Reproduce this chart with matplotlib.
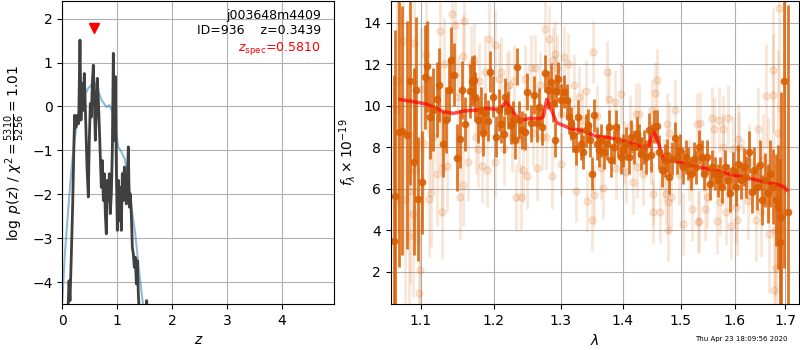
import matplotlib
matplotlib.use('Agg')
import matplotlib.pyplot as plt
from matplotlib.ticker import FixedLocator, FixedFormatter, NullLocator
import numpy as np

# p(z) curves
pz_z = [0.07, 0.109, 0.122, 0.14, 0.158, 0.188, 0.213, 0.225, 0.249, 0.274, 0.298,
        0.322, 0.340, 0.359, 0.377, 0.401, 0.426, 0.450, 0.474, 0.492, 0.511, 0.529,
        0.547, 0.565, 0.584, 0.602, 0.620, 0.638, 0.657, 0.675, 0.693, 0.711, 0.729,
        0.748, 0.766, 0.784, 0.802, 0.821, 0.839, 0.857, 0.875, 0.894, 0.912, 0.930,
        0.948, 0.967, 0.985, 1.003, 1.021, 1.040, 1.058, 1.076, 1.094, 1.112, 1.131,
        1.149, 1.167, 1.185, 1.204, 1.222, 1.240, 1.258, 1.277, 1.295, 1.313, 1.331,
        1.350, 1.368, 1.386, 1.404, 1.526, 1.538, 1.550]
pz_log = [-5.0, -4.46, -3.97, -4.42, -3.66, -2.29, -0.77, -0.20, -0.47, -0.20, -0.39,
          1.51, -0.31, 0.52, -0.09, 0.75, -0.31, -1.38, -2.06, -0.77, 0.07, -0.24,
          0.52, 0.94, 0.14, -0.77, -0.09, 0.64, 0.14, -0.47, -1.15, -1.84, -1.23,
          -2.14, -1.53, -2.44, -2.90, -1.68, -2.14, -1.53, -2.44, -1.99, -1.00, 1.21,
          -0.77, 0.68, -1.38, -2.82, -1.68, -2.60, -1.84, -2.82, -1.53, -2.14, -1.38,
          -1.84, -2.22, -1.68, -0.92, -2.29, -1.99, -2.44, -3.21, -3.36, -3.66, -3.43,
          -4.04, -3.51, -4.27, -4.73, -4.73, -4.42, -4.73]

prior_z = [0.0, 0.05, 0.11, 0.17, 0.23, 0.29, 0.35, 0.41, 0.47, 0.53, 0.60, 0.66, 0.72,
           0.78, 0.81, 0.86, 0.90, 0.96, 1.02, 1.08, 1.14, 1.20, 1.26, 1.33, 1.38,
           1.42, 1.47, 1.52]
prior_log = [-4.4, -3.3, -2.3, -1.38, -0.69, -0.24, 0.07, 0.26, 0.41, 0.49, 0.52, 0.33,
             0.14, 0.03, -0.01, 0.03, -0.09, -0.47, -0.92, -1.04, -1.20, -1.68, -2.29,
             -2.90, -3.50, -3.97, -4.50, -5.0]

z_spec = 0.5810
z_best = 0.3439

# spectrum, first orient
wave_a = [1.0655, 1.0670, 1.0723, 1.0758, 1.0826, 1.0862, 1.0906, 1.0942, 1.0969, 1.1017,
          1.1053, 1.1079, 1.1122, 1.1166, 1.1211, 1.1245, 1.1298, 1.1334, 1.1378, 1.1401,
          1.1441, 1.1486, 1.1522, 1.1550, 1.1594, 1.1660, 1.1690, 1.1718, 1.1740, 1.1779,
          1.1825, 1.1845, 1.1881, 1.1920, 1.1953, 1.1987, 1.2035, 1.2074, 1.2112, 1.2151,
          1.2170, 1.2209, 1.2249, 1.2287, 1.2317, 1.2346, 1.2375, 1.2415, 1.2465, 1.2494,
          1.2545, 1.2594, 1.2635, 1.2665, 1.2715, 1.2765, 1.2806, 1.2847, 1.2878, 1.2909,
          1.2924, 1.2959, 1.3001, 1.3052, 1.3095, 1.3131, 1.3167, 1.3199, 1.3237, 1.3273,
          1.3316, 1.3358, 1.3396, 1.3433, 1.3465, 1.3497, 1.3529, 1.3573, 1.3615, 1.3647,
          1.3691, 1.3736, 1.3768, 1.3811, 1.3856, 1.3889, 1.3923, 1.3968, 1.4011, 1.4057,
          1.4102, 1.4146, 1.4192, 1.4238, 1.4272, 1.4316, 1.4362, 1.4397, 1.4443, 1.4488,
          1.4535, 1.4582, 1.4627, 1.4675, 1.4722, 1.4768, 1.4803, 1.4851, 1.4899, 1.4946,
          1.4994, 1.5043, 1.5090, 1.5138, 1.5187, 1.5235, 1.5284, 1.5334, 1.5381, 1.5431,
          1.5481, 1.5529, 1.5579, 1.5630, 1.5678, 1.5723, 1.5766, 1.5817, 1.5866, 1.5918,
          1.5969, 1.6018, 1.6070, 1.6122, 1.6172, 1.6224, 1.6277, 1.6327, 1.6380, 1.6433,
          1.6484, 1.6537, 1.6590, 1.6642, 1.6696, 1.6750, 1.6802, 1.6856, 1.6882, 1.6922,
          1.6977, 1.7044]
flux_a = [3.49, 5.65, 8.75, 8.80, 8.60, 11.20, 7.30, 10.75, 5.50, 6.30,
          11.40, 11.90, 9.45, 9.80, 10.30, 11.00, 8.15, 9.30, 10.75, 12.20,
          11.50, 7.50, 8.40, 10.75, 9.10, 10.70, 11.20, 11.24, 10.44, 9.31,
          9.80, 8.67, 9.63, 9.28, 11.64, 10.44, 8.51, 9.80, 9.12, 8.62,
          10.44, 9.80, 9.07, 9.31, 8.35, 11.88, 9.31, 8.83, 8.75, 10.67,
          9.15, 10.52, 9.15, 9.95, 8.99, 11.56, 10.76, 11.15, 10.11, 8.35,
          10.72, 11.30, 10.26, 10.67, 10.26, 9.46, 9.14, 8.58, 7.93, 9.46,
          8.17, 7.77, 8.82, 9.06, 8.34, 6.73, 9.54, 8.17, 7.85, 8.34,
          7.77, 8.17, 8.98, 7.37, 8.01, 8.98, 8.34, 7.53, 7.85, 8.17,
          7.53, 8.50, 8.01, 8.66, 8.34, 7.69, 8.01, 7.53, 8.85, 7.61,
          8.98, 9.01, 7.77, 6.89, 7.37, 7.61, 6.56, 7.45, 8.42, 7.53,
          7.85, 7.05, 7.53, 7.21, 6.73, 7.45, 7.05, 8.01, 7.53, 6.73,
          7.53, 6.25, 7.05, 6.73, 6.41, 6.73, 6.09, 7.05, 6.41, 5.77,
          6.89, 6.09, 7.21, 6.41, 7.05, 6.56, 7.77, 5.85, 6.89, 6.09,
          7.13, 5.45, 6.41, 5.77, 6.73, 6.09, 5.45, 5.13, 3.45, 4.65,
          11.20, 4.86]
err_a = [8.0, 8.0, 6.5, 6.0, 5.5, 5.0, 4.5, 3.5, 3.0, 2.5,
         2.5, 2.2, 2.0, 2.0, 1.8, 1.8, 1.6, 1.6, 1.5, 1.6,
         1.5, 1.6, 1.4, 1.4, 1.3, 1.3, 1.2, 1.2, 1.2, 1.1,
         1.1, 1.1, 1.0, 1.0, 1.0, 1.0, 1.0, 1.0, 0.9, 0.9,
         0.9, 0.9, 0.9, 0.9, 0.9, 0.9, 0.9, 0.9, 0.9, 0.9,
         0.9, 0.9, 0.9, 0.9, 0.9, 0.9, 0.9, 0.9, 0.9, 0.8,
         0.8, 0.8, 0.8, 0.8, 0.8, 0.8, 0.8, 0.8, 0.8, 0.8,
         0.8, 0.8, 0.8, 0.8, 0.8, 0.8, 0.8, 0.8, 0.8, 0.8,
         0.8, 0.8, 0.8, 0.8, 0.8, 0.8, 0.8, 0.8, 0.8, 0.8,
         0.8, 0.8, 0.8, 0.8, 0.8, 0.8, 0.8, 0.8, 0.8, 0.8,
         0.8, 0.8, 0.8, 0.8, 0.8, 0.8, 0.8, 0.8, 0.8, 0.8,
         0.8, 0.8, 0.8, 0.8, 0.8, 0.8, 0.8, 0.8, 0.8, 0.8,
         0.8, 0.8, 0.8, 0.8, 0.8, 0.8, 0.8, 0.8, 0.8, 0.9,
         0.9, 0.9, 0.9, 0.9, 0.9, 1.0, 1.0, 1.0, 1.1, 1.1,
         1.2, 1.2, 1.3, 1.4, 1.6, 1.8, 2.2, 3.0, 4.0, 6.0,
         9.0, 10.0]

# spectrum, second orient
wave_b = [1.0689, 1.0706, 1.0766, 1.0792, 1.0844, 1.0860, 1.0895, 1.0912, 1.0929, 1.0982,
          1.0991, 1.1000, 1.1034, 1.1070, 1.1100, 1.1105, 1.1132, 1.1167, 1.1212, 1.1256,
          1.1262, 1.1279, 1.1287, 1.1310, 1.1355, 1.1419, 1.1464, 1.1505, 1.1529, 1.1566,
          1.1572, 1.1584, 1.1643, 1.1677, 1.1718, 1.1750, 1.1778, 1.1788, 1.1835, 1.1873,
          1.1901, 1.1938, 1.2016, 1.2024, 1.2073, 1.2111, 1.2150, 1.2189, 1.2227, 1.2266,
          1.2296, 1.2330, 1.2365, 1.2404, 1.2424, 1.2463, 1.2489, 1.2543, 1.2574, 1.2612,
          1.2643, 1.2687, 1.2713, 1.2755, 1.2774, 1.2816, 1.2867, 1.2887, 1.2908, 1.2939,
          1.3001, 1.3010, 1.3052, 1.3114, 1.3207, 1.3238, 1.3293, 1.3336, 1.3395, 1.3411,
          1.3500, 1.3516, 1.3527, 1.3581, 1.3637, 1.3680, 1.3745, 1.3772, 1.3868, 1.3889,
          1.3967, 1.4022, 1.4050, 1.4122, 1.4167, 1.4218, 1.4235, 1.4279, 1.4337, 1.4475,
          1.4498, 1.4510, 1.4520, 1.4544, 1.4590, 1.4636, 1.4705, 1.4740, 1.4752, 1.4769,
          1.4775, 1.4797, 1.4832, 1.4907, 1.4971, 1.5040, 1.5146, 1.5215, 1.5291, 1.5309,
          1.5344, 1.5349, 1.5449, 1.5484, 1.5567, 1.5615, 1.5673, 1.5699, 1.5724, 1.5774,
          1.5786, 1.5836, 1.5874, 1.5925, 1.5963, 1.6026, 1.6050, 1.6058, 1.6088, 1.6154,
          1.6251, 1.6281, 1.6414, 1.6447, 1.6512, 1.6545, 1.6610, 1.6644, 1.6677, 1.6745,
          1.6757, 1.6765, 1.6785, 1.6811, 1.6852, 1.6866, 1.6892]
flux_b = [9.8, 11.2, 13.1, 5.5, 3.7, 5.9, 4.8, 13.0, 6.9, 1.0,
          2.1, 10.8, 8.2, 12.5, 11.3, 5.5, 5.8, 8.5, 6.7, 9.5,
          13.6, 7.0, 4.9, 12.0, 7.1, 14.4, 13.9, 10.4, 5.6, 6.2,
          12.4, 14.1, 7.3, 11.95, 12.2, 8.5, 7.9, 11.2, 7.1, 11.6,
          6.9, 13.2, 12.9, 7.3, 11.3, 11.6, 7.9, 10.9, 11.0, 8.5,
          11.2, 5.6, 8.4, 5.6, 6.9, 11.3, 6.6, 11.8, 8.7, 11.8,
          7.0, 11.0, 8.5, 13.7, 8.5, 13.2, 6.6, 12.2, 12.5, 11.8,
          9.6, 7.2, 12.35, 12.0, 11.0, 5.9, 10.4, 9.3, 10.7, 5.4,
          4.5, 12.6, 5.7, 9.5, 7.0, 6.05, 11.6, 10.3, 10.2, 7.0,
          10.55, 7.75, 6.8, 9.0, 6.3, 9.6, 7.05, 9.6, 6.7, 7.75,
          9.8, 5.75, 4.9, 10.6, 11.24, 4.9, 6.9, 5.75, 9.1, 5.35,
          4.0, 8.7, 5.6, 9.8, 6.7, 4.3, 6.9, 5.0, 9.1, 4.4,
          4.45, 9.15, 5.0, 5.6, 9.4, 8.9, 4.45, 9.3, 5.35, 8.0,
          8.9, 4.9, 9.4, 4.2, 7.9, 5.1, 4.5, 8.4, 8.0, 6.6,
          5.4, 7.3, 4.5, 8.9, 4.9, 7.4, 10.45, 6.9, 3.8, 10.5,
          11.7, 1.1, 4.0, 2.2, 8.7, 14.7, 4.9]
err_b = [6.0, 6.0, 5.0, 5.0, 4.5, 4.5, 4.0, 4.0, 3.5, 3.5,
         3.5, 3.0, 3.0, 3.0, 2.8, 2.8, 2.6, 2.5, 2.5, 2.4,
         2.4, 2.3, 2.3, 2.2, 2.2, 2.2, 2.2, 2.0, 2.0, 2.0,
         2.0, 2.0, 1.9, 1.9, 1.8, 1.8, 1.8, 1.8, 1.8, 1.8,
         1.8, 1.8, 1.7, 1.7, 1.7, 1.7, 1.7, 1.7, 1.7, 1.7,
         1.7, 1.6, 1.6, 1.6, 1.6, 1.6, 1.6, 1.6, 1.6, 1.6,
         1.6, 1.6, 1.6, 1.6, 1.6, 1.6, 1.6, 1.6, 1.6, 1.6,
         1.5, 1.5, 1.5, 1.5, 1.5, 1.5, 1.5, 1.5, 1.5, 1.5,
         1.5, 1.5, 1.5, 1.5, 1.5, 1.5, 1.5, 1.5, 1.5, 1.5,
         1.5, 1.5, 1.5, 1.5, 1.5, 1.5, 1.5, 1.5, 1.5, 1.5,
         1.5, 1.5, 1.5, 1.5, 1.5, 1.5, 1.5, 1.5, 1.5, 1.5,
         1.5, 1.5, 1.5, 1.5, 1.5, 1.5, 1.5, 1.5, 1.5, 1.5,
         1.5, 1.5, 1.5, 1.5, 1.5, 1.5, 1.6, 1.6, 1.6, 1.6,
         1.6, 1.6, 1.6, 1.6, 1.6, 1.7, 1.7, 1.7, 1.7, 1.8,
         1.8, 1.8, 2.0, 2.0, 2.2, 2.2, 2.5, 2.5, 2.8, 3.0,
         3.0, 3.0, 3.2, 3.5, 4.0, 5.0, 5.0]

# best-fit template
model_wave = [1.0732, 1.1079, 1.1302, 1.1437, 1.1575, 1.1760, 1.1902, 1.2044, 1.2102,
              1.2179, 1.2262, 1.2385, 1.2533, 1.2684, 1.2734, 1.2785, 1.2836, 1.2939,
              1.3147, 1.3358, 1.3572, 1.3735, 1.3956, 1.4124, 1.4350, 1.4436, 1.4523,
              1.4610, 1.4697, 1.4993, 1.5295, 1.5602, 1.5916, 1.6236, 1.6563, 1.6829,
              1.6963, 1.7031]
model_flux = [10.30, 10.08, 9.71, 9.63, 9.74, 9.79, 9.87, 9.82, 9.84,
              10.22, 9.79, 9.28, 9.39, 9.37, 9.47, 10.31, 9.95, 9.18,
              8.91, 8.78, 8.51, 8.48, 8.35, 8.22, 7.98, 8.03, 8.83,
              8.19, 7.42, 7.27, 7.06, 6.90, 6.69, 6.53, 6.34, 6.21,
              6.10, 5.94]

wave_ticks = [1.1, 1.2, 1.3, 1.4, 1.5, 1.6, 1.7]
orange = '#d95f02'

fig = plt.figure(figsize=(8, 3.5), dpi=100)
ax = fig.add_axes([0.0779, 0.131, 0.340, 0.866])
ax.plot(prior_z, prior_log, color='tab:blue', alpha=0.5, lw=1.5)
ax.plot(pz_z, pz_log, color='0.25', lw=2)
ax.plot(z_spec, 1.78, 'v', color='r', ms=7)
ax.text(0.95, 0.975, 'j003648m4409\nID=936    z={0:.4f}'.format(z_best),
        ha='right', va='top', transform=ax.transAxes, fontsize=9)
ax.text(0.95, 0.87, r'$z_\mathrm{spec}$' + '={0:.4f}'.format(z_spec),
        ha='right', va='top', transform=ax.transAxes, fontsize=9, color='r')
ax.set_xlim(0, 4.96)
ax.set_ylim(-4.5, 2.4)
ax.set_xticks([0, 1, 2, 3, 4])
ax.set_yticks([-4, -3, -2, -1, 0, 1, 2])
ax.set_xlabel(r'$z$')
ax.set_ylabel(r'$\log\ p(z)$' + ' / ' + r'$\chi^2=\frac{5310}{5256}=1.01$')
ax.grid()

ax2 = fig.add_axes([0.4884, 0.131, 0.5108, 0.866])
ax2.errorbar(wave_b, flux_b, err_b, marker='o', ms=5, linestyle='None',
             color=orange, alpha=0.15, elinewidth=2)
ax2.errorbar(wave_a, flux_a, err_a, marker='o', ms=4.5, linestyle='None',
             color=orange, alpha=0.85, elinewidth=2)
ax2.plot(model_wave, model_flux, color='r', alpha=0.7, lw=2.5)
ax2.set_xscale('log')
ax2.set_xlim(1.0613, 1.7287)
ax2.set_ylim(0.44, 15.04)
ax2.xaxis.set_major_locator(FixedLocator(wave_ticks))
ax2.xaxis.set_major_formatter(FixedFormatter(['{0:.1f}'.format(w) for w in wave_ticks]))
ax2.xaxis.set_minor_locator(NullLocator())
ax2.set_yticks([2, 4, 6, 8, 10, 12, 14])
ax2.set_xlabel(r'$\lambda$')
ax2.set_ylabel(r'$f_\lambda \times 10^{-19}$')
ax2.grid()

fig.text(0.984, 0.031, 'Thu Apr 23 18:09:56 2020', ha='right', va='center', fontsize=5)

fig.savefig('out.png', dpi=100)
